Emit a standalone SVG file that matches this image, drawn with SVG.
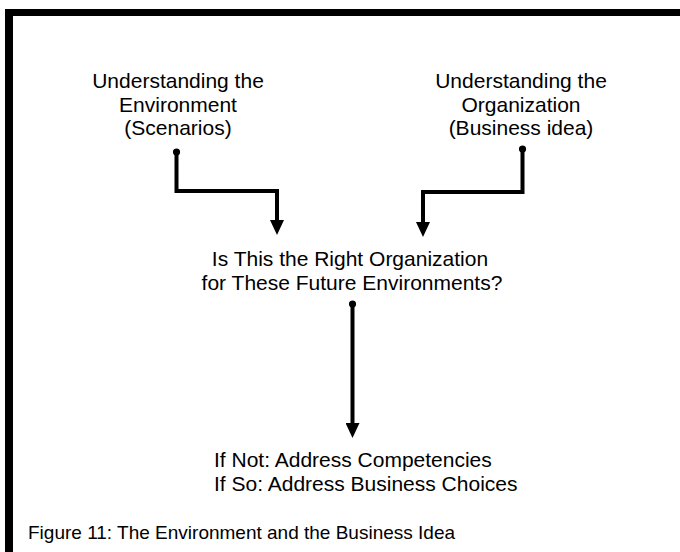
<svg xmlns="http://www.w3.org/2000/svg" width="680" height="552" viewBox="0 0 680 552">
<defs>
<style>
.t{font-family:"Liberation Sans",Arial,sans-serif;font-size:21px;fill:#000}
.c{text-anchor:middle}
.cap{font-family:"Liberation Sans",Arial,sans-serif;font-size:19px;fill:#000}
.conn{fill:none;stroke:#000;stroke-width:4;stroke-linejoin:miter;marker-start:url(#dot);marker-end:url(#arr)}
</style>
<marker id="arr" viewBox="0 0 15 14" refX="0" refY="7" markerWidth="15" markerHeight="14" markerUnits="userSpaceOnUse" orient="auto">
<path d="M0,0 L15,7 L0,14 Z" fill="#000"/>
</marker>
<marker id="dot" viewBox="0 0 8 8" refX="4" refY="4" markerWidth="8" markerHeight="8" markerUnits="userSpaceOnUse" orient="auto">
<circle cx="4" cy="4" r="3.6" fill="#000"/>
</marker>
</defs>
<rect width="680" height="552" fill="#fff"/>
<g id="frame">
<rect x="5" y="9" width="675" height="7" fill="#000"/>
<rect x="5" y="9" width="8" height="543" fill="#000"/>
</g>
<g id="connectors">
<path class="conn" d="M176.5,152 V191 H277 V220"/>
<path class="conn" d="M522.5,149 V192 H423 V222"/>
<path class="conn" d="M352.5,304 V423"/>
</g>
<g id="environment">
<text class="t c" x="178" y="88">Understanding the</text>
<text class="t c" x="178" y="112">Environment</text>
<text class="t c" x="178" y="135">(Scenarios)</text>
</g>
<g id="organization">
<text class="t c" x="521" y="88">Understanding the</text>
<text class="t c" x="521" y="112">Organization</text>
<text class="t c" x="521" y="135">(Business idea)</text>
</g>
<g id="question">
<text class="t c" x="350" y="266">Is This the Right Organization</text>
<text class="t c" x="352" y="289.5">for These Future Environments?</text>
</g>
<g id="outcome">
<text class="t" x="214" y="467">If Not: Address Competencies</text>
<text class="t" x="214" y="491">If So: Address Business Choices</text>
</g>
<g id="caption">
<text class="cap" x="28" y="539">Figure 11: The Environment and the Business Idea</text>
</g>
</svg>
